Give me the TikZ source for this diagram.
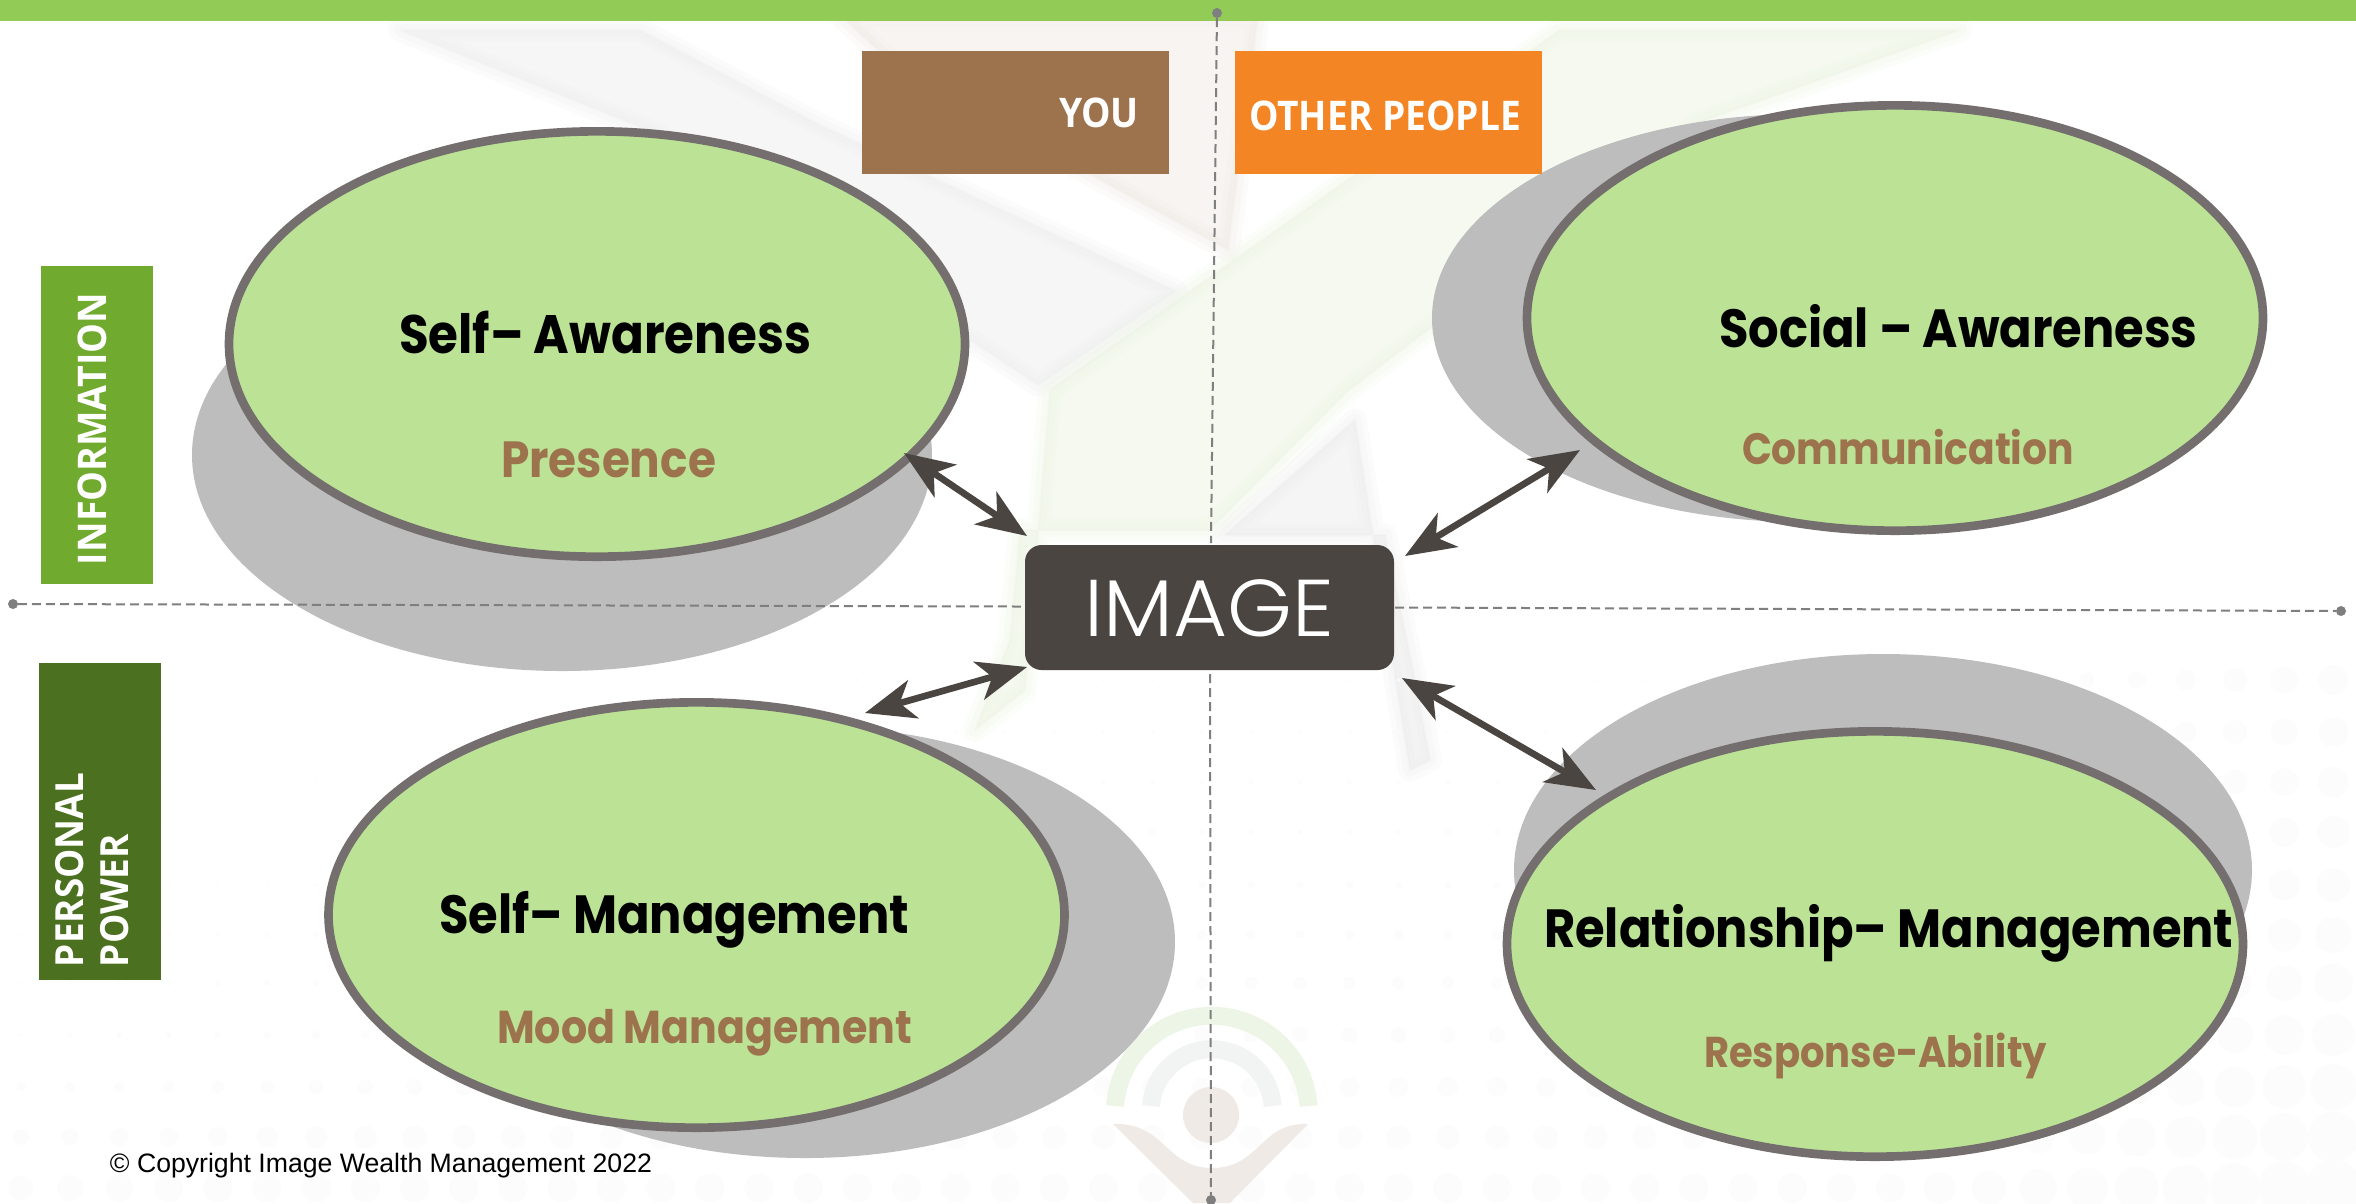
\documentclass[tikz,border=0pt]{standalone}
\usepackage{fontspec}
\usepackage{graphicx}
\usetikzlibrary{arrows.meta,shapes.geometric}
\setmainfont{Liberation Sans}
\newfontfamily\titlefont{Poppins}
\newfontfamily\lightfont{Poppins Light}
\newfontfamily\boxfont{Open Sans}
\definecolor{barc}{HTML}{92CC56}
\definecolor{youc}{HTML}{9C734D}
\definecolor{othc}{HTML}{F38524}
\definecolor{infc}{HTML}{70AA2E}
\definecolor{powc}{HTML}{4B7020}
\definecolor{imgc}{HTML}{4A4541}
\definecolor{ringc}{HTML}{746F6E}
\definecolor{fillc}{HTML}{BCE395}
\definecolor{shadc}{HTML}{BDBDBD}
\definecolor{dashc}{HTML}{7F7F7F}
\definecolor{wmgray}{HTML}{EDEDED}
\definecolor{wmwarm}{HTML}{EFE9E3}
\definecolor{wmgreen}{HTML}{EAF5E1}
\definecolor{wmdark}{HTML}{EBEBEB}
\definecolor{logogreen}{HTML}{EDF6E6}
\definecolor{logogray}{HTML}{F2F3F3}
\definecolor{logowarm}{HTML}{EFEAE6}
\definecolor{dotc}{HTML}{FCFCFC}
\newcommand{\softshape}[2]{%
  \foreach \wd in {7pt,4pt,1pt}{%
    \path[fill=#1,draw=#1,line join=round,line width=\wd,opacity=0.17] #2;%
  }%
}
\newcommand{\vst}[2]{\scalebox{1}[#1]{#2}}
\tikzset{
  x=0.3pt,y=-0.3pt,
  bubble/.style={ellipse,draw=ringc,fill=fillc,line width=2.6pt,minimum width=220.8pt,minimum height=127.6pt,inner sep=0pt,outer sep=0pt},
  labelbox/.style={rectangle,inner sep=0pt,outer sep=0pt,anchor=north west},
  boxtext/.style={text=white,inner sep=0pt,outer sep=0pt,anchor=base west,font=\boxfont\bfseries},
  title/.style={text=black,inner sep=0pt,outer sep=0pt,anchor=base west,font=\titlefont\bfseries},
  subtitle/.style={text=youc,inner sep=0pt,outer sep=0pt,anchor=base west,font=\titlefont\bfseries},
  guide/.style={draw=dashc,line width=0.6pt,dash pattern=on 2.7pt off 1.5pt},
  guidedot/.style={circle,fill=dashc,inner sep=0pt,outer sep=0pt,minimum size=3pt},
  link/.style={draw=imgc,line width=2pt,{Stealth[length=15pt,width=11.8pt,inset=4.2pt]}-{Stealth[length=15pt,width=11.8pt,inset=4.2pt]}}
}
\begin{document}
\begin{tikzpicture}
\clip (0,0) rectangle (2356,1203);
\fill[white] (0,0) rectangle (2356,1203);
% watermark
\softshape{wmwarm}{(840,15) -- (1258,15) -- (1228,250) -- (900,70) -- cycle}
\softshape{wmgray}{(400,30) -- (660,135) -- (1038,385) -- (1176,291) -- (820,125) -- (640,30) -- cycle}
\softshape{wmgreen}{(1050,390) -- (1560,30) -- (1960,30) -- (1700,122) -- (1345,393) -- (1210,530) -- (1020,530) -- (1010,640) -- (975,730) -- (1025,690) -- cycle}
\softshape{wmdark}{(1355,420) -- (1225,535) -- (1385,535) -- (1415,680) -- (1430,760) -- (1410,770) -- (1394,670) -- cycle}
\foreach \yy in {680,732,782,832,885,935,983,1035,1087,1137,1188}{
  \foreach \k in {0,...,47}{
    \pgfmathsetmacro{\xx}{21+49.2*\k}
    \pgfmathsetmacro{\tn}{(\yy-680)/508}
    \pgfmathsetmacro{\rr}{(1.5+13*\tn*\tn)*min(1,(\xx+250)/1100+max(0,\tn-0.7)*2)+max(0,(\xx-1900)/456*14)}
    \fill[dotc] (\xx,\yy) circle[radius=\rr];
  }
}
% small logo
\draw[logogreen,line width=5.4pt] (1115,1106) arc[start angle=184,end angle=356,radius=97];
\draw[logogray,line width=5.4pt] (1151,1106) arc[start angle=184,end angle=356,radius=61];
\fill[logowarm] (1211,1115) circle[radius=28];
\fill[logowarm] (1113,1124) .. controls (1165,1122) and (1165,1168) .. (1212,1168) .. controls (1260,1168) and (1260,1122) .. (1308,1124) -- (1230,1203) -- (1193,1203) -- cycle;
% top bar
\fill[barc] (0,0) rectangle (2356,21);
% shadows
\fill[shadc] (562,455) ellipse (370 and 216);
\fill[shadc] (1802,318) ellipse (370 and 204);
\fill[shadc] (805,942) ellipse (370 and 216);
\fill[shadc] (1883,870) ellipse (369 and 216);
% centre
\node[fill=imgc,rounded corners=5pt,minimum width=110.7pt,minimum height=37.5pt,inner sep=0pt,outer sep=0pt] (image) at (1209.5,607.5) {};
% guides
\node[guidedot] (dl) at (13,604) {};
\node[guidedot] (dr) at (2341,611) {};
\node[guidedot] (dt) at (1217,13) {};
\node[guidedot] (db) at (1211,1200) {};
\draw[guide] (dl) -- ([shift={(-3,-1)}]image.west);
\draw[guide] ([xshift=0.3pt]image.east) -- (dr);
\draw[guide] (dt) -- ([shift={(1.5,-2)}]image.north);
\draw[guide] ([shift={(0.5,4)}]image.south) -- (db);
% bubbles
\node[bubble] (saware) at (597,344) {};
\node[bubble] (social) at (1895,318) {};
\node[bubble] (smgmt) at (696.5,915) {};
\node[bubble] (rel) at (1875,944) {};
% header boxes
\node[labelbox,fill=youc,minimum width=92.1pt,minimum height=36.9pt] (you) at (862,51) {};
\node[labelbox,fill=othc,minimum width=92.1pt,minimum height=36.9pt] (oth) at (1235,51) {};
\node[labelbox,fill=infc,minimum width=33.6pt,minimum height=95.5pt] (inf) at (41,266) {};
\node[labelbox,fill=powc,minimum width=36.6pt,minimum height=95.1pt] (pow) at (39,663) {};
% box texts
\node[boxtext] (tyou) at (1059,127) {\resizebox{24pt}{!}{\vst{1.1}{YOU}}};
\node[boxtext] (toth) at (1249,130) {\resizebox{81.6pt}{!}{\vst{1.1}{OTHER PEOPLE}}};
\node[boxtext,rotate=90] (tinf) at (106,565) {\resizebox{81.6pt}{!}{\vst{1.05}{INFORMATION}}};
\node[boxtext,rotate=90] (tper) at (83,967) {\resizebox{58.2pt}{!}{\vst{1.05}{PERSONAL}}};
\node[boxtext,rotate=90] (tpow) at (128,967) {\resizebox{39.9pt}{!}{\vst{1.05}{POWER}}};
% centre text
\node[text=white,inner sep=0pt,outer sep=0pt,anchor=base west,font=\lightfont] (timg) at (1084.5,636) {\resizebox{74.9pt}{!}{\vst{0.97}{IMAGE}}};
% titles
\node[title] (t1) at (399,353) {\resizebox{123.6pt}{!}{\vst{1.12}{Self– Awareness}}};
\node[subtitle] (s1) at (501,477) {\resizebox{64.5pt}{!}{\vst{1.12}{Presence}}};
\node[title] (t2) at (1719,347) {\resizebox{143.6pt}{!}{\vst{1.12}{Social – Awareness}}};
\node[subtitle] (s2) at (1742,464) {\resizebox{99.6pt}{!}{\vst{1.12}{Communication}}};
\node[title] (t3) at (439,933) {\resizebox{141pt}{!}{\vst{1.12}{Self– Management}}};
\node[subtitle] (s3) at (497,1043) {\resizebox{124.5pt}{!}{\vst{1.12}{Mood Management}}};
\node[title] (t4) at (1544,947) {\resizebox{206.8pt}{!}{\vst{1.12}{Relationship– Management}}};
\node[subtitle] (s4) at (1704,1067) {\resizebox{102.9pt}{!}{\vst{1.12}{Response-Ability}}};
\node[text=black,inner sep=0pt,outer sep=0pt,anchor=base west] (copy) at (110,1172) {\resizebox{162.6pt}{!}{© Copyright Image Wealth Management 2022}};
% links
\draw[link] ([shift={(307,109)}]saware.center) -- ([shift={(2,-9)}]image.north west);
\draw[link] ([shift={(11,11)}]image.north east) -- ([shift={(-315,132)}]social.center);
\draw[link] ([shift={(168.5,-202)}]smgmt.center) -- ([shift={(2,-3)}]image.south west);
\draw[link] ([shift={(8,8)}]image.south east) -- ([shift={(-279,-154)}]rel.center);
\end{tikzpicture}
\end{document}
